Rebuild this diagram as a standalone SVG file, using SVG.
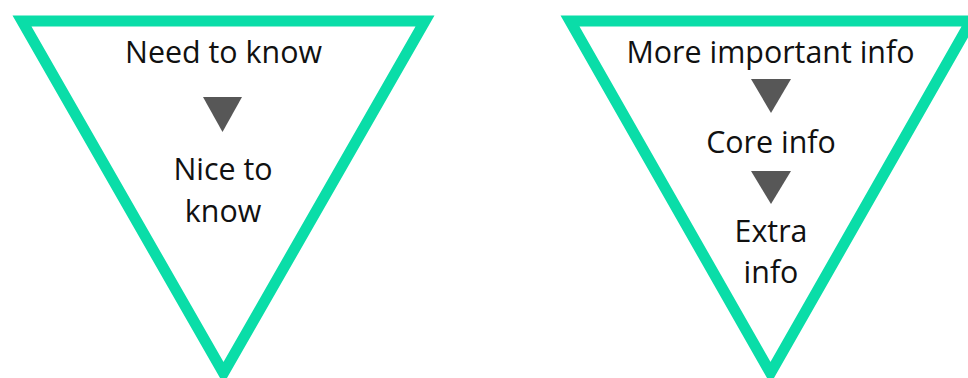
<svg xmlns="http://www.w3.org/2000/svg" width="968" height="378" viewBox="0 0 968 378">
<style>
.tri{fill:none;stroke:#0adda8;stroke-width:11;stroke-linejoin:miter;stroke-miterlimit:10}
.arr{fill:#575757}
text{font-family:"Open Sans","Noto Sans",sans-serif;font-size:30.4px;fill:#111;text-anchor:middle}
</style>
<rect width="968" height="378" fill="#fff"/>
<g id="funnel-left">
<polygon class="tri" points="22,21 425,21 223.5,373"/>
<text x="223.5" y="63">Need to know</text>
<text x="223" y="180">Nice to</text>
<text x="223" y="222">know</text>
</g>
<g id="funnel-right">
<polygon class="tri" points="570,21 971,21 770.5,373"/>
<text x="770.5" y="63">More important info</text>
<text x="771" y="153">Core info</text>
<text x="771" y="242">Extra</text>
<text x="771" y="283">info</text>
</g>
<g id="connectors">
<polygon class="arr" points="203,97 242,97 222.5,132"/>
<polygon class="arr" points="751,79 791,79 771,113"/>
<polygon class="arr" points="751,171 791,171 771,204"/>
</g>
</svg>
